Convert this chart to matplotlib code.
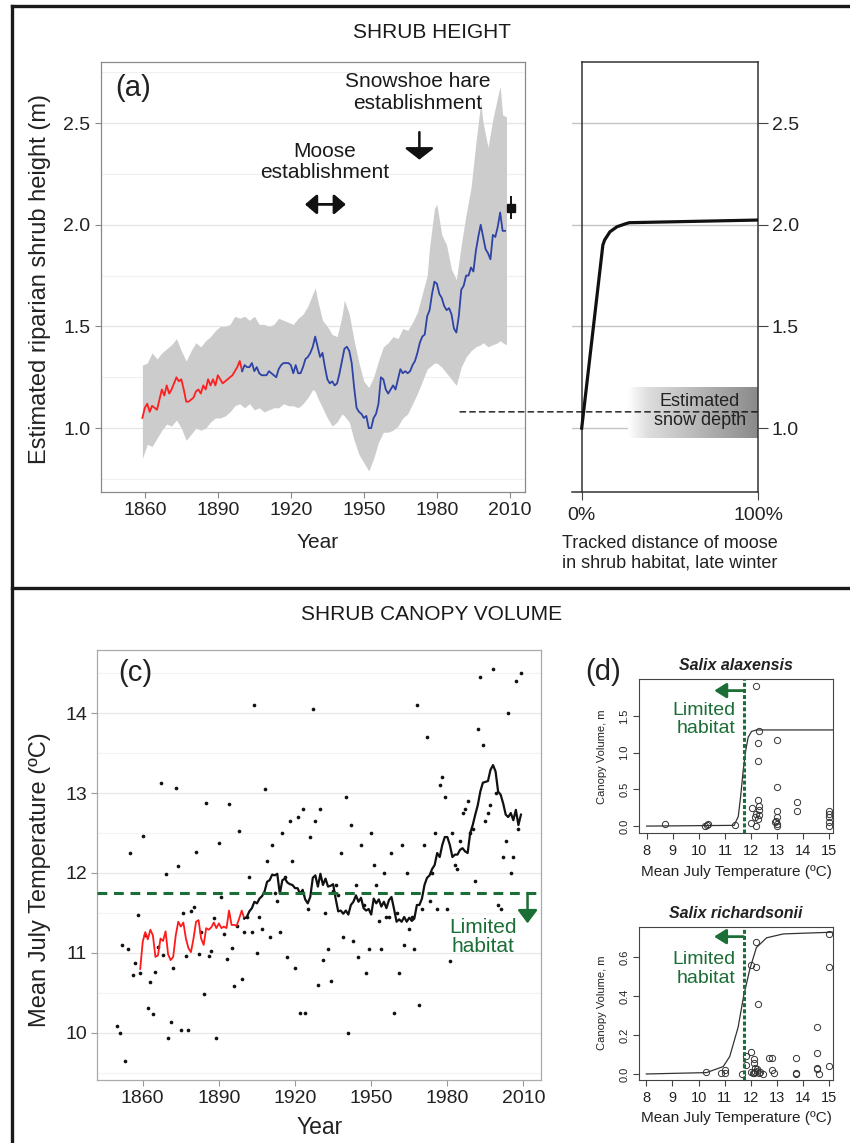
import numpy as np
import matplotlib
matplotlib.use("Agg")
import matplotlib.pyplot as plt
from matplotlib.lines import Line2D
from matplotlib.patches import ConnectionPatch
from matplotlib.colors import LinearSegmentedColormap

plt.rcParams['font.family'] = ['Liberation Sans', 'DejaVu Sans']

# ---------------- data ----------------
# (a) reconstructed riparian shrub height
red_height = [1.05, 1.10, 1.12, 1.08, 1.11, 1.10, 1.09, 1.14, 1.19, 1.16,
              1.21, 1.17, 1.19, 1.22, 1.25, 1.23, 1.24, 1.19, 1.13, 1.13,
              1.14, 1.15, 1.18, 1.19, 1.17, 1.21, 1.19, 1.24, 1.21, 1.24,
              1.21, 1.26, 1.24, 1.22, 1.23, 1.24, 1.25, 1.26, 1.28, 1.30,
              1.33, 1.28]                      # 1859-1900
blue_height = [1.28, 1.31, 1.30, 1.30, 1.32, 1.28, 1.30, 1.27, 1.26, 1.26,
               1.26, 1.28, 1.27, 1.26, 1.25, 1.29, 1.31, 1.32, 1.32, 1.32,
               1.31, 1.27, 1.31, 1.27, 1.27, 1.30, 1.34, 1.35, 1.37, 1.40,
               1.45, 1.40, 1.35, 1.37, 1.30, 1.24, 1.22, 1.23, 1.21, 1.22,
               1.27, 1.33, 1.39, 1.40, 1.38, 1.32, 1.20, 1.10, 1.08, 1.07,
               1.05, 1.06, 1.00, 1.00, 1.05, 1.07, 1.12, 1.25, 1.24, 1.19,
               1.17, 1.19, 1.21, 1.19, 1.24, 1.29, 1.27, 1.28, 1.27, 1.28,
               1.31, 1.33, 1.37, 1.42, 1.45, 1.46, 1.55, 1.58, 1.66, 1.72,
               1.71, 1.66, 1.64, 1.60, 1.58, 1.59, 1.56, 1.49, 1.47, 1.55,
               1.68, 1.70, 1.75, 1.75, 1.79, 1.77, 1.87, 1.94, 2.00, 1.94,
               1.88, 1.86, 1.83, 1.95, 1.94, 1.99, 2.06, 1.97, 1.97]  # 1900-2008
red_years = np.arange(1859, 1859 + len(red_height))
blue_years = np.arange(1900, 1900 + len(blue_height))

band_years = [1859, 1861, 1863, 1865, 1867, 1869, 1871, 1873, 1875, 1877,
              1879, 1881, 1883, 1885, 1887, 1889, 1891, 1893, 1895, 1897,
              1899, 1901, 1903, 1905, 1907, 1909, 1911, 1913, 1915, 1917,
              1919, 1921, 1923, 1925, 1927, 1929, 1930, 1931, 1933, 1935,
              1937, 1939, 1941, 1942, 1944, 1946, 1948, 1950, 1952, 1954,
              1956, 1958, 1960, 1962, 1964, 1966, 1968, 1970, 1972, 1974,
              1976, 1977, 1979, 1980, 1982, 1984, 1986, 1988, 1990, 1992,
              1994, 1996, 1998, 1999, 2001, 2003, 2005, 2006, 2007, 2008.6]
band_hi = [1.31, 1.32, 1.37, 1.34, 1.37, 1.39, 1.41, 1.44, 1.38, 1.33,
           1.38, 1.42, 1.40, 1.43, 1.45, 1.48, 1.50, 1.50, 1.51, 1.55,
           1.54, 1.55, 1.53, 1.55, 1.51, 1.51, 1.50, 1.51, 1.54, 1.53,
           1.52, 1.51, 1.54, 1.56, 1.60, 1.66, 1.69, 1.63, 1.53, 1.50,
           1.46, 1.45, 1.55, 1.63, 1.56, 1.43, 1.32, 1.23, 1.20, 1.25,
           1.33, 1.40, 1.42, 1.45, 1.44, 1.49, 1.48, 1.52, 1.57, 1.66,
           1.75, 1.89, 2.08, 2.10, 1.95, 1.90, 1.78, 1.73, 1.90, 2.05,
           2.18, 2.40, 2.60, 2.50, 2.38, 2.52, 2.63, 2.68, 2.54, 2.53]
band_lo = [0.85, 0.92, 0.91, 0.95, 0.99, 1.02, 1.01, 1.04, 1.00, 0.94,
           0.97, 1.00, 0.99, 1.00, 1.03, 1.05, 1.05, 1.06, 1.08, 1.11,
           1.12, 1.10, 1.12, 1.09, 1.10, 1.08, 1.09, 1.10, 1.10, 1.12,
           1.11, 1.11, 1.10, 1.12, 1.15, 1.19, 1.18, 1.15, 1.10, 1.05,
           1.01, 1.03, 1.07, 1.06, 1.03, 0.94, 0.87, 0.83, 0.79, 0.85,
           0.93, 0.98, 0.98, 0.99, 1.01, 1.05, 1.07, 1.12, 1.17, 1.23,
           1.29, 1.30, 1.32, 1.32, 1.30, 1.27, 1.24, 1.21, 1.30, 1.35,
           1.38, 1.40, 1.41, 1.42, 1.40, 1.41, 1.42, 1.43, 1.42, 1.41]

obs_year, obs_height, obs_lo, obs_hi = 2010.3, 2.08, 2.03, 2.14
snow_depth = 1.08

# (b) share of moose track in shrub habitat vs shrub height
moose_share = [0.0, 0.12, 0.13, 0.16, 0.20, 0.25, 0.27, 1.0]
moose_height = [1.00, 1.90, 1.925, 1.965, 1.99, 2.005, 2.01, 2.023]

# (c) mean July temperature
temp_years = np.arange(1850, 2010)
july_temp = [10.09, 10.00, 11.10, 9.65, 11.05, 12.25, 10.72, 10.88, 11.47, 10.75,
             12.46, 11.23, 10.31, 10.63, 10.24, 10.76, 11.07, 13.13, 10.98, 11.99,
             9.94, 10.13, 10.81, 13.06, 12.09, 10.03, 11.50, 10.96, 10.03, 11.52,
             11.58, 12.26, 10.99, 11.26, 10.49, 12.88, 10.96, 11.02, 11.44, 9.93,
             12.38, 11.70, 11.24, 10.92, 12.86, 11.06, 10.59, 11.34, 12.52, 10.67,
             11.26, 11.45, 11.95, 11.26, 14.10, 11.00, 11.45, 11.30, 13.05, 12.15,
             11.20, 12.35, 11.75, 11.65, 11.26, 12.50, 11.95, 10.95, 12.65, 12.15,
             10.81, 12.70, 10.25, 12.80, 10.25, 11.55, 12.45, 14.05, 12.65, 10.60,
             12.80, 10.91, 11.50, 11.05, 10.65, 11.78, 11.85, 11.72, 12.25, 11.20,
             12.95, 10.00, 12.60, 11.15, 11.85, 10.95, 12.35, 11.60, 10.75, 11.05,
             12.50, 12.10, 11.85, 11.40, 11.05, 12.00, 11.45, 11.45, 12.25, 10.25,
             11.50, 10.75, 12.35, 11.10, 12.00, 11.30, 11.45, 11.05, 14.10, 10.35,
             11.55, 12.35, 13.70, 11.65, 12.00, 12.50, 11.55, 13.10, 13.20, 12.95,
             11.55, 10.90, 12.50, 12.10, 12.05, 12.40, 12.75, 12.80, 12.90, 12.50,
             12.55, 11.90, 13.80, 14.45, 13.60, 12.65, 12.75, 12.85, 14.55, 13.00,
             11.60, 11.55, 12.20, 12.40, 14.00, 12.00, 12.20, 14.40, 12.55, 14.50]
temp_red = [10.80, 11.14, 11.26, 11.17, 11.29, 11.22, 10.95, 10.97, 11.18, 11.15,
            11.27, 10.98, 10.91, 10.95, 11.22, 11.39, 11.33, 11.38, 11.18, 11.06,
            11.01, 11.18, 11.39, 11.41, 11.18, 11.10, 11.31, 11.29, 11.32, 11.38,
            11.31, 11.37, 11.31, 11.33, 11.31, 11.53, 11.35, 11.35, 11.34, 11.43,
            11.53, 11.43]                      # 1859-1900
temp_black = [11.43, 11.45, 11.52, 11.56, 11.64, 11.62, 11.68, 11.71, 11.77, 11.89,
              11.91, 11.98, 11.97, 11.99, 11.74, 11.91, 11.93, 11.88, 11.86, 11.85,
              11.81, 11.81, 11.74, 11.79, 11.67, 11.62, 11.70, 11.94, 11.97, 11.83,
              11.99, 11.85, 11.93, 11.83, 11.84, 11.86, 11.68, 11.52, 11.53, 11.49,
              11.53, 11.48, 11.60, 11.64, 11.72, 11.64, 11.69, 11.56, 11.53, 11.55,
              11.48, 11.68, 11.62, 11.67, 11.58, 11.64, 11.56, 11.66, 11.70, 11.55,
              11.39, 11.42, 11.39, 11.45, 11.39, 11.44, 11.40, 11.43, 11.60, 11.60,
              11.68, 11.85, 11.94, 11.97, 12.05, 12.10, 12.25, 12.20, 12.35, 12.45,
              12.45, 12.35, 12.20, 12.23, 12.23, 12.29, 12.31, 12.27, 12.25, 12.50,
              12.60, 12.73, 12.85, 13.02, 13.13, 13.14, 13.15, 13.29, 13.35, 13.27,
              13.02, 12.98, 12.87, 12.73, 12.70, 12.75, 12.66, 12.79, 12.60, 12.73]  # 1900-2009
temp_red_years = np.arange(1859, 1859 + len(temp_red))
temp_black_years = np.arange(1900, 1900 + len(temp_black))
habitat_threshold = 11.75

# (d) canopy volume vs temperature
alax_temp = [8.7, 10.25, 10.3, 10.35, 11.4, 12.0, 12.05, 12.2, 12.25, 12.25,
             12.3, 12.25, 12.3, 12.3, 12.2, 12.3, 12.25, 12.2, 12.15, 13.0,
             13.0, 13.0, 13.0, 12.9, 13.0, 13.0, 12.95, 13.75, 13.75, 15.0,
             15.0, 15.0, 15.0, 15.0]
alax_vol = [0.03, 0.0, 0.02, 0.03, 0.02, 0.04, 0.25, 1.91, 1.13, 0.89,
            1.30, 0.36, 0.27, 0.22, 0.17, 0.15, 0.10, 0.0, 0.13, 1.17,
            0.53, 0.21, 0.13, 0.06, 0.03, 0.0, 0.07, 0.33, 0.20, 0.20,
            0.17, 0.12, 0.06, 0.0]
alax_fit_t = [8.0, 11.35, 11.51, 11.6, 11.7, 11.8, 11.89, 12.02, 12.21, 15.15]
alax_fit_v = [0.0, 0.01, 0.13, 0.40, 0.76, 1.04, 1.21, 1.29, 1.31, 1.31]

rich_temp = [10.3, 10.85, 11.0, 11.0, 11.64, 11.83, 11.83, 12.02, 12.02, 12.18,
             12.21, 12.27, 12.1, 12.12, 12.15, 12.0, 12.08, 12.13, 12.17, 12.22,
             12.25, 12.3, 12.33, 12.47, 12.7, 12.79, 12.79, 12.88, 13.72, 13.72,
             13.72, 14.52, 14.52, 14.52, 14.52, 14.62, 15.0, 15.0, 15.0]
rich_vol = [0.01, 0.007, 0.02, 0.003, 0.0, 0.09, 0.046, 0.115, 0.56, 0.68,
            0.55, 0.36, 0.077, 0.055, 0.03, 0.012, 0.003, 0.006, 0.01, 0.017,
            0.024, 0.003, 0.012, 0.0, 0.08, 0.08, 0.02, 0.003, 0.08, 0.007,
            0.0, 0.24, 0.11, 0.033, 0.026, 0.0, 0.72, 0.55, 0.04]
rich_fit_t = [8.0, 10.3, 10.94, 11.19, 11.51, 11.72, 11.96, 12.21, 12.6, 13.24, 15.15]
rich_fit_v = [0.0, 0.007, 0.038, 0.09, 0.24, 0.40, 0.54, 0.65, 0.70, 0.72, 0.729]

GREEN = '#1b6e35'


def fx(px):
    return px / 850.0


def fy(py):
    return 1 - py / 1143.0


fig = plt.figure(figsize=(8.5, 11.43), dpi=100)

# ---------------- (a) ----------------
ax_a = fig.add_axes([fx(101), fy(492), fx(424), 430 / 1143])
ax_a.fill_between(band_years, band_lo, band_hi, color='#cccccc', lw=0, zorder=1)
ax_a.plot(red_years, red_height, color='#ff1f1f', lw=1.3, zorder=3)
ax_a.plot(blue_years, blue_height, color='#2d43a6', lw=1.3, zorder=3)
ax_a.errorbar([obs_year], [obs_height],
              yerr=[[obs_height - obs_lo], [obs_hi - obs_height]],
              fmt='s', ms=6, color='#111', lw=1.4, capsize=0, zorder=4)
ax_a.set_xlim(1842, 2016.2)
ax_a.set_ylim(0.686, 2.80)
ax_a.set_xticks([1860, 1890, 1920, 1950, 1980, 2010])
ax_a.set_yticks([1.0, 1.5, 2.0, 2.5])
ax_a.set_yticklabels(['1.0', '1.5', '2.0', '2.5'])
ax_a.set_yticks([0.75, 1.25, 1.75, 2.25, 2.75], minor=True)
ax_a.grid(axis='y', which='major', color='#e4e4e4', lw=0.9, zorder=0)
ax_a.grid(axis='y', which='minor', color='#f0f0f0', lw=0.9, zorder=0)
ax_a.set_axisbelow(True)
ax_a.tick_params(which='major', direction='out', length=4, color='#888888',
                 labelsize=14, labelcolor='#222222')
ax_a.tick_params(which='minor', length=0)
for s in ax_a.spines.values():
    s.set_color('#8a8a8a')
    s.set_linewidth(0.9)

ax_a.text(1855, 2.67, '(a)', ha='center', va='center', size=21, color='#222')
ax_a.text(1972.2, 2.65, 'Snowshoe hare\nestablishment', ha='center', va='center',
          size=15, linespacing=1.15, color='#1a1a1a')
ax_a.annotate('', xy=(1972.8, 2.32), xytext=(1972.8, 2.455),
              arrowprops=dict(arrowstyle='-|>,head_length=0.35,head_width=0.45',
                              color='#111', lw=1.8, mutation_scale=20,
                              shrinkA=0, shrinkB=0))
ax_a.text(1934, 2.31, 'Moose\nestablishment', ha='center', va='center',
          size=15, linespacing=1.15, color='#1a1a1a')
ax_a.annotate('', xy=(1942.6, 2.10), xytext=(1925.8, 2.10),
              arrowprops=dict(arrowstyle='<|-|>,head_length=0.35,head_width=0.3',
                              color='#111', lw=2.0, mutation_scale=20,
                              shrinkA=0, shrinkB=0))

fig.text(fx(40), fy(279), 'Estimated riparian shrub height (m)', rotation=90,
         ha='center', va='center', size=17, color='#222')
fig.text(fx(318), fy(543), 'Year', ha='center', va='center', size=15, color='#222')

# ---------------- (b) ----------------
ax_b = fig.add_axes([fx(572), fy(492), fx(186), 430 / 1143])
ax_b.set_xlim(-0.055, 1.0)
ax_b.set_ylim(0.686, 2.80)
ax_b.set_yticks([1.0, 1.5, 2.0, 2.5])
ax_b.set_yticklabels(['1.0', '1.5', '2.0', '2.5'])
ax_b.grid(axis='y', color='#c4c4c4', lw=1.0, zorder=0)
ax_b.set_axisbelow(True)
ax_b.yaxis.tick_right()
ax_b.set_xticks([0, 1])
ax_b.set_xticklabels(['0%', '100%'])
ax_b.tick_params(axis='y', direction='out', length=7, color='#444',
                 labelsize=14, labelcolor='#222', pad=3)
ax_b.tick_params(axis='x', direction='out', length=6, color='#444',
                 labelsize=14, labelcolor='#222', pad=5)
ax_b.spines['left'].set_position(('data', 0))
ax_b.spines['top'].set_bounds(0, 1)
for s in ax_b.spines.values():
    s.set_color('#333333')
    s.set_linewidth(1.1)
ax_b.tick_params(axis='y', which='both', left=False)
ax_b.plot(moose_share, moose_height, color='#111', lw=2.3, zorder=4,
          solid_joinstyle='round')

snow_cmap = LinearSegmentedColormap.from_list(
    'snow', [(0, '#ffffff'), (0.15, '#dedede'), (1, '#8a8a8a')])
ax_b.imshow(np.linspace(0, 1, 256).reshape(1, -1), cmap=snow_cmap,
            extent=(0.263, 1.0, 0.95, 1.196), aspect='auto', zorder=2)
ax_b.text(0.67, 1.085, 'Estimated\nsnow depth', ha='center', va='center',
          size=13, color='#222', linespacing=1.15, zorder=5)

con = ConnectionPatch(xyA=(1989.5, snow_depth), coordsA=ax_a.transData,
                      xyB=(1.0, snow_depth), coordsB=ax_b.transData,
                      linestyle=(0, (4, 3)), lw=1.0, color='#111', zorder=6)
fig.add_artist(con)

fig.text(fx(561.7), fy(553), 'Tracked distance of moose\nin shrub habitat, late winter',
         ha='left', va='center', size=13, color='#222', linespacing=1.2)

# ---------------- (c) ----------------
ax_c = fig.add_axes([fx(97.3), fy(1080), fx(443.7), 430 / 1143])
ax_c.scatter(temp_years, july_temp, s=7, color='#111', lw=0, zorder=3)
ax_c.plot(temp_red_years, temp_red, color='#ff1a1a', lw=1.3, zorder=4)
ax_c.plot(temp_black_years, temp_black, color='#111', lw=1.6, zorder=4)
ax_c.axhline(habitat_threshold, color=GREEN, lw=2.2, ls=(0, (3.2, 2.2)), zorder=5)
ax_c.annotate('', xy=(2011.6, 11.37), xytext=(2011.6, habitat_threshold),
              arrowprops=dict(arrowstyle='-|>,head_length=0.4,head_width=0.3',
                              color=GREEN, lw=1.8, mutation_scale=20,
                              shrinkA=0, shrinkB=0), zorder=6)
ax_c.text(1994, 11.2, 'Limited\nhabitat', ha='center', va='center', size=15,
          color=GREEN, linespacing=1.05)
ax_c.text(1857, 14.5, '(c)', ha='center', va='center', size=21, color='#222')
ax_c.set_xlim(1842.1, 2016.9)
ax_c.set_ylim(9.41, 14.79)
ax_c.set_xticks([1860, 1890, 1920, 1950, 1980, 2010])
ax_c.set_yticks([10, 11, 12, 13, 14])
ax_c.set_yticks([9.5, 10.5, 11.5, 12.5, 13.5, 14.5], minor=True)
ax_c.grid(axis='y', which='major', color='#e8e8e8', lw=0.9, zorder=0)
ax_c.grid(axis='y', which='minor', color='#f3f3f3', lw=0.9, zorder=0)
ax_c.set_axisbelow(True)
ax_c.tick_params(which='major', direction='out', length=4, color='#999',
                 labelsize=14, labelcolor='#222')
ax_c.tick_params(which='minor', length=0)
for s in ax_c.spines.values():
    s.set_color('#aaaaaa')
    s.set_linewidth(0.9)

fig.text(fx(40), fy(880), 'Mean July Temperature (ºC)', rotation=90,
         ha='center', va='center', size=17, color='#222')
fig.text(fx(320), fy(1128), 'Year', ha='center', va='center', size=16.5, color='#222')

# ---------------- (d) ----------------
def canopy_panel(ax, t, v, fit_t, fit_v, ylim, yticks, title, arrow_y, text_y):
    ax.plot(fit_t, fit_v, color='#333', lw=0.9, zorder=3)
    ax.plot(t, v, 'o', mfc='none', mec='#333', ms=4.5, mew=0.7, zorder=4)
    ax.axvline(habitat_threshold - 0.03, color=GREEN, lw=2.2,
               ls=(0, (1.3, 0.7)), zorder=5)
    ax.annotate('', xy=(10.59, arrow_y), xytext=(habitat_threshold - 0.03, arrow_y),
                arrowprops=dict(arrowstyle='-|>,head_length=0.4,head_width=0.25',
                                color=GREEN, lw=2.0, mutation_scale=18,
                                shrinkA=0, shrinkB=0))
    ax.text(11.40, text_y, 'Limited\nhabitat', ha='right', va='center', size=14,
            color=GREEN, linespacing=1.1)
    ax.set_xlim(7.72, 15.15)
    ax.set_ylim(*ylim)
    ax.set_xticks(range(8, 16))
    ax.set_yticks(yticks)
    ax.set_yticklabels(['%.1f' % y for y in yticks], rotation=90, va='center')
    ax.tick_params(axis='x', direction='out', length=4, color='#444',
                   labelsize=10.5, labelcolor='#222', pad=4)
    ax.tick_params(axis='y', direction='out', length=4, color='#444',
                   labelsize=8, labelcolor='#222', pad=3)
    for s in ax.spines.values():
        s.set_color('#444444')
        s.set_linewidth(0.8)
    ax.set_title(title, style='italic', weight='bold', size=11.5, pad=7, color='#222')


ax_d1 = fig.add_axes([fx(639.3), fy(832.7), fx(194), 153.4 / 1143])
canopy_panel(ax_d1, alax_temp, alax_vol, alax_fit_t, alax_fit_v,
             (-0.09, 2.0), [0.0, 0.5, 1.0, 1.5], 'Salix alaxensis', 1.846, 1.45)
ax_d2 = fig.add_axes([fx(639), fy(1080), fx(194.3), 152.7 / 1143])
canopy_panel(ax_d2, rich_temp, rich_vol, rich_fit_t, rich_fit_v,
             (-0.031, 0.754), [0.0, 0.2, 0.4, 0.6], 'Salix richardsonii', 0.706, 0.54)

fig.text(fx(603), fy(672), '(d)', ha='center', va='center', size=21, color='#222')
for yc_lab, yc_x in ((757, 872), (1003, 1118)):
    fig.text(fx(601.7), fy(yc_lab), 'Canopy Volume, m', rotation=90,
             ha='center', va='center', size=8, color='#222')
    fig.text(fx(736), fy(yc_x), 'Mean July Temperature (ºC)', ha='center',
             va='center', size=11, color='#222')

# ---------------- frame and section titles ----------------
fig.text(fx(432), fy(32), 'SHRUB HEIGHT', ha='center', va='center', size=15, color='#1a1a1a')
fig.text(fx(432), fy(615), 'SHRUB CANOPY VOLUME', ha='center', va='center', size=15,
         color='#1a1a1a')
for xs, ys in (([fx(12), fx(12)], [fy(6), 0]),
               ([fx(12), 1], [fy(6), fy(6)]),
               ([fx(12), 1], [fy(588), fy(588)])):
    fig.add_artist(Line2D(xs, ys, color='#1a1a1a', lw=2.4, transform=fig.transFigure))

fig.savefig('out.png', dpi=100)
